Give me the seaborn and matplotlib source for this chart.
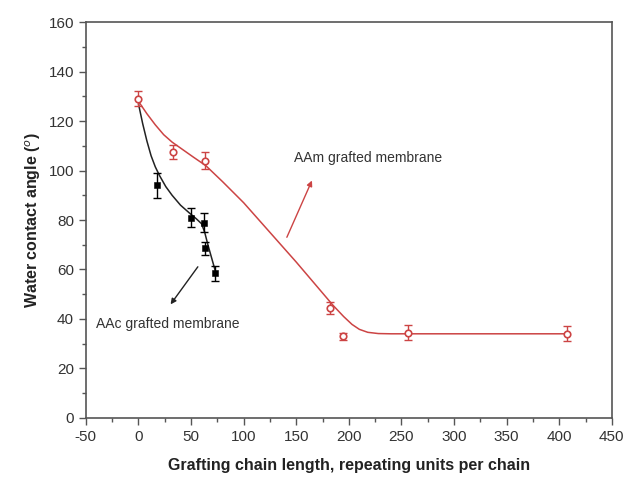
import matplotlib
matplotlib.use("Agg")
import matplotlib.pyplot as plt
import seaborn as sns
from matplotlib.ticker import MultipleLocator

# measured points (chain length, contact angle, error)
aam_x = [0, 33, 63, 182, 194, 256, 407]
aam_y = [129, 107.5, 104, 44.5, 33, 34.5, 34]
aam_err = [3, 3, 3.5, 2.5, 1.5, 3, 3]

aac_x = [18, 50, 62.5, 63.5, 73]
aac_y = [94, 81, 79, 68.5, 58.5]
aac_err = [5, 4, 4, 2.5, 3]

# fitted guide curves
aam_fit_x = [0, 8, 16, 24, 32, 42, 52, 64, 80, 100, 125, 150, 170, 185, 195, 203, 210, 218, 228, 240, 407]
aam_fit_y = [128, 123, 118.5, 114.5, 111.5, 108.5, 105.5, 102, 95.5, 87, 75, 63, 53, 45.5, 41, 37.8, 35.8, 34.6, 34.1, 34, 34]
aac_fit_x = [0, 4, 8, 12, 16, 20, 26, 32, 40, 48, 55, 60, 63, 66, 70, 74]
aac_fit_y = [127, 119, 112, 106, 101.5, 98, 93.5, 90, 86, 83, 80.5, 78.5, 75, 70, 64, 58]

red = "#cc4444"

sns.set_style("ticks")
plt.rcParams['font.family'] = ['Liberation Sans', 'DejaVu Sans']
plt.rcParams['axes.unicode_minus'] = False

fig = plt.figure(figsize=(6.36, 4.82), dpi=100)
ax = fig.add_axes([0.135, 0.133, 0.827, 0.821])

sns.lineplot(x=aam_fit_x, y=aam_fit_y, sort=False, estimator=None, color=red, lw=1.1, ax=ax)
sns.lineplot(x=aac_fit_x, y=aac_fit_y, sort=False, estimator=None, color="#222222", lw=1.1, ax=ax)

ax.errorbar(aam_x, aam_y, yerr=aam_err, fmt="none", ecolor=red, elinewidth=1, capsize=3)
ax.errorbar(aac_x, aac_y, yerr=aac_err, fmt="none", ecolor="black", elinewidth=1, capsize=3)
sns.scatterplot(x=aam_x, y=aam_y, marker="o", s=22, facecolor="white", edgecolor=red, linewidth=1.2, ax=ax, zorder=3)
sns.scatterplot(x=aac_x, y=aac_y, marker="s", s=24, color="black", edgecolor="black", ax=ax, zorder=3)

ax.annotate("", xy=(166, 97), xytext=(140, 72),
            arrowprops=dict(arrowstyle="-|>", color=red, lw=1, mutation_scale=8))
ax.text(148, 105, "AAm grafted membrane", fontsize=10, color="#333333", va="center")
ax.annotate("", xy=(29, 45), xytext=(58, 62),
            arrowprops=dict(arrowstyle="-|>", color="#222222", lw=1, mutation_scale=8))
ax.text(-40, 38, "AAc grafted membrane", fontsize=10, color="#333333", va="center")

ax.set_xlim(-50, 450)
ax.set_ylim(0, 160)
ax.xaxis.set_major_locator(MultipleLocator(50))
ax.xaxis.set_minor_locator(MultipleLocator(25))
ax.yaxis.set_major_locator(MultipleLocator(20))
ax.yaxis.set_minor_locator(MultipleLocator(10))
ax.tick_params(which="major", direction="out", length=5, width=1, colors="#555555", labelcolor="#333333", labelsize=11)
ax.tick_params(which="minor", direction="out", length=3, width=1, colors="#555555")
for s in ax.spines.values():
    s.set_color("#555555")
    s.set_linewidth(1.2)

ax.set_xlabel("Grafting chain length, repeating units per chain", fontsize=11.5, fontweight="bold", color="#222222", labelpad=10)
ax.set_ylabel("Water contact angle ($^o$)", fontsize=11.5, fontweight="bold", color="#222222", labelpad=4)

plt.savefig("out.png", dpi=100)
